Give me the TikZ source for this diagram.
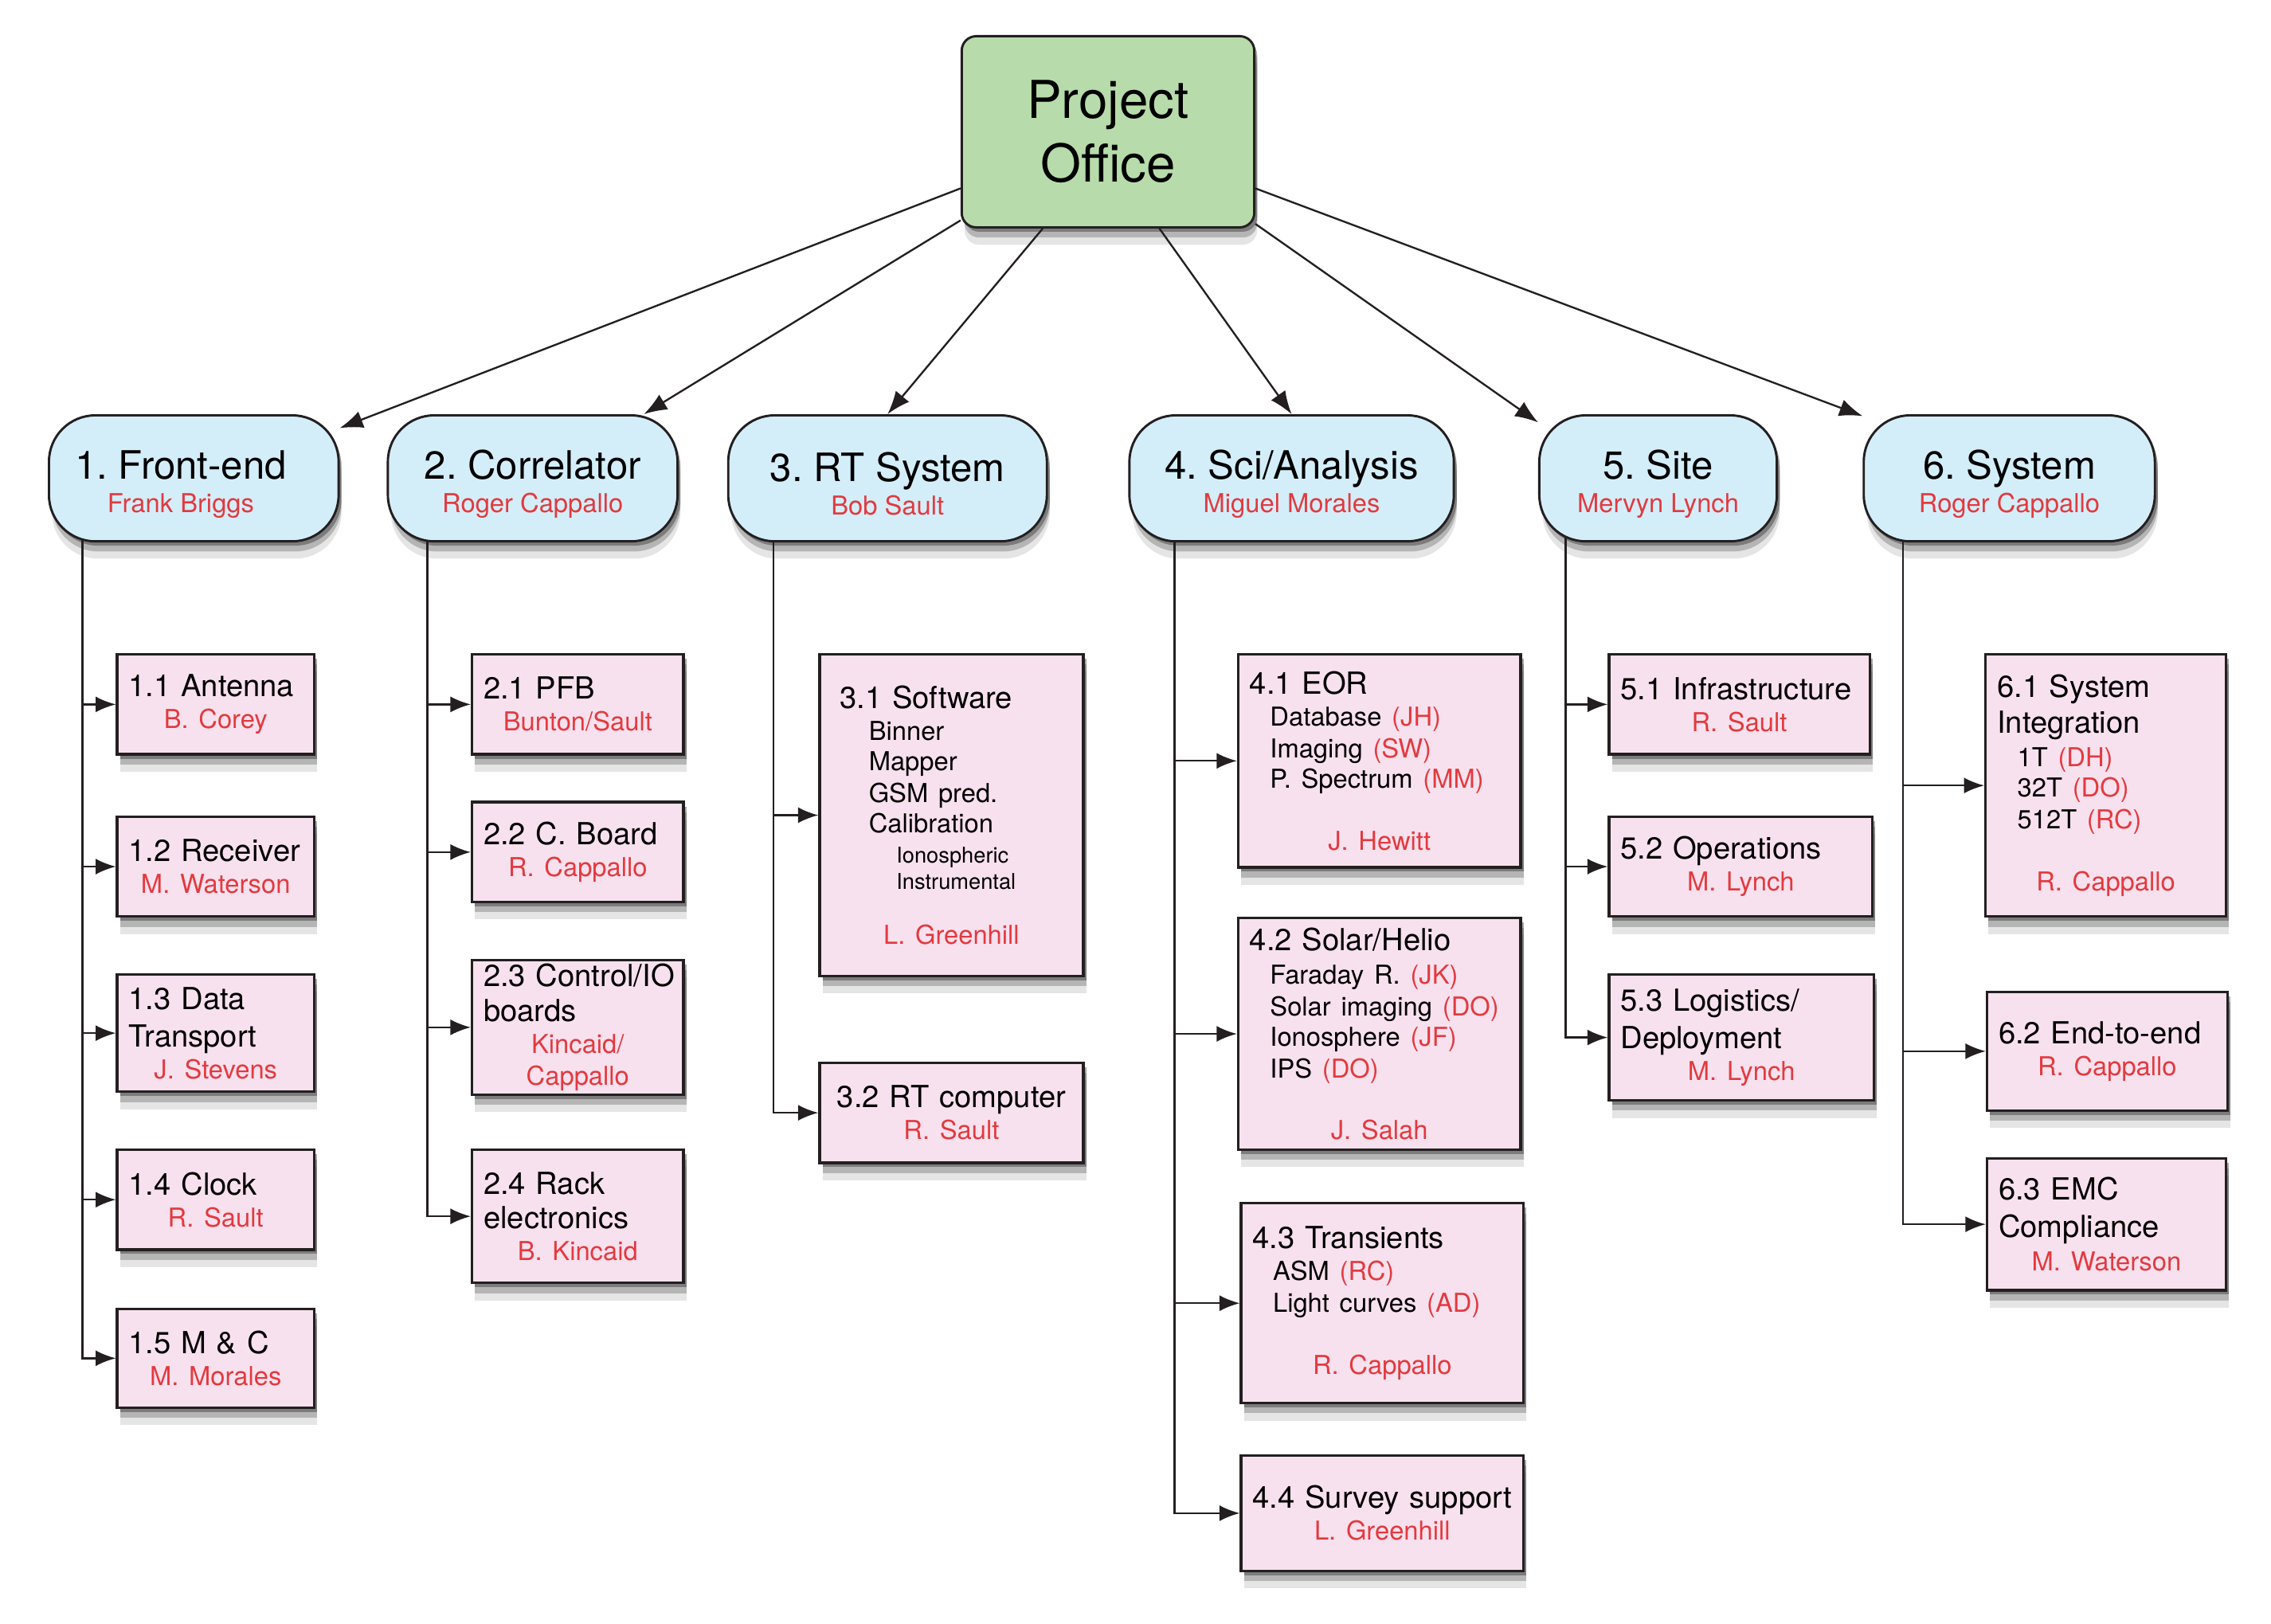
\documentclass[tikz,border=0pt]{standalone}
\usepackage{fontspec}
\setmainfont{TeX Gyre Heros}
\usepackage{tikz}
\usepackage{xcolor}
\usetikzlibrary{arrows.meta,shadows}

\definecolor{pogreen}{HTML}{B7DBAA}
\definecolor{areablue}{HTML}{D4EEF9}
\definecolor{taskpink}{HTML}{F8E1EE}
\definecolor{leadred}{HTML}{E23A3F}
\definecolor{ink}{HTML}{231F20}

\newcommand{\mgr}[1]{{\color{leadred}\fontsize{18}{23}\selectfont #1}}
\newcommand{\who}[1]{\hspace*{\fill}\mbox{\color{leadred}\fontsize{18}{22}\selectfont #1}\hspace*{\fill}\null}
\newcommand{\wbsline}[1]{\hspace*{14pt}\mbox{\fontsize{18}{22}\selectfont #1}}
\newcommand{\initials}[1]{{\color{leadred}(#1)}}
\hyphenpenalty=10000
\frenchspacing

\begin{document}
\begin{tikzpicture}[x=1pt,y=-1pt,
  soft/.style={drop shadow={shadow xshift=2pt,shadow yshift=-3pt,opacity=.4,fill=black!85},
    drop shadow={shadow xshift=2pt,shadow yshift=-7pt,opacity=.25,fill=black!85},
    drop shadow={shadow xshift=2pt,shadow yshift=-12pt,opacity=.12,fill=black!85}},
  office/.style={draw=ink,line width=1.6pt,fill=pogreen,rounded corners=10pt,soft,
    minimum width=202pt,minimum height=132pt,inner sep=0pt,align=center,
    font=\fontsize{36}{44}\selectfont},
  area/.style={draw=ink,line width=1.6pt,fill=areablue,rounded corners=32pt,soft,
    minimum height=87pt,inner sep=0pt,align=center,anchor=north west,
    font=\fontsize{27}{23}\selectfont,execute at begin node={\rule{0pt}{51pt}}},
  task/.style={draw=ink,line width=1.8pt,fill=taskpink,soft,anchor=north west,
    inner xsep=8pt,inner ysep=0pt,align=left,font=\fontsize{21}{22}\selectfont},
  link/.style={draw=ink,line width=1.3pt,-{Latex[length=16pt,width=12pt]}},
  feed/.style={draw=ink,line width=1.3pt,-{Latex[length=14pt,width=11pt]}}]
        \useasboundingbox (0,0) rectangle (1568,1121);

        \node[office] (po) at (765,91) {Project\\Office};

        \node[area,minimum width=200pt] (fe) at (33,286) {1. Front-end\kern18pt\\\mgr{Frank Briggs\kern18pt}};
        \node[area,minimum width=200pt] (cor) at (267,286) {2. Correlator\\\mgr{Roger Cappallo}};
        \node[area,minimum width=220pt] (rts) at (502,286) {3. RT System\\\mgr{Bob Sault}};
        \node[area,minimum width=224pt] (sci) at (779,286) {4. Sci/Analysis\\\mgr{Miguel Morales}};
        \node[area,minimum width=164pt] (site) at (1062,286) {5. Site\\\mgr{Mervyn Lynch}};
        \node[area,minimum width=201pt] (sys) at (1286,286) {6. System\\\mgr{Roger Cappallo}};

        % 1. Front-end
        \node[task,text width=120pt,minimum height=69pt] (t11) at (80,451) {1.1~Antenna\\\who{B. Corey}};
        \node[task,text width=120pt,minimum height=69pt] (t12) at (80,563) {1.2~Receiver\\\who{M. Waterson}};
        \node[task,text width=120pt,minimum height=81pt] (t13) at (80,672) {1.3~Data\\[4pt]Transport\\\who{J. Stevens}};
        \node[task,text width=120pt,minimum height=69pt] (t14) at (80,793) {1.4~Clock\\\who{R. Sault}};
        \node[task,text width=120pt,minimum height=68pt] (t15) at (80,903) {1.5~M~\&~C\\\who{M. Morales}};

        % 2. Correlator
        \node[task,text width=130pt,minimum height=69pt] (t21) at (325,451) {2.1~PFB\\\who{Bunton/Sault}};
        \node[task,text width=130pt,minimum height=69pt] (t22) at (325,553) {2.2~C.~Board\\\who{R. Cappallo}};
        \node[task,text width=130pt,minimum height=93pt] (t23) at (325,662) {2.3~Control/IO\\[2pt]boards\\\who{Kincaid/}\\\who{Cappallo}};
        \node[task,text width=130pt,minimum height=92pt] (t24) at (325,793) {2.4~Rack\\[2pt]electronics\\\who{B. Kincaid}};

        % 3. RT System
        \node[task,text width=154pt,inner xsep=14pt,minimum height=222pt] (t31) at (565,451)
        {3.1~Software\\
        \wbsline{\hspace{6pt}Binner}\\[-1pt]
        \wbsline{\hspace{6pt}Mapper}\\
        \wbsline{\hspace{6pt}GSM pred.}\\[-1pt]
        \wbsline{\hspace{6pt}Calibration}\\[-1pt]
        \wbsline{\hspace{25pt}\fontsize{15}{22}\selectfont Ionospheric}\\[-4pt]
        \wbsline{\hspace{25pt}\fontsize{15}{22}\selectfont Instrumental}\\[16pt]
        \who{L. Greenhill}};
        \node[task,text width=166pt,minimum height=69pt] (t32) at (565,733) {\hspace*{4pt}3.2~RT~computer\\\who{R. Sault}};

        % 4. Sci/Analysis
        \node[task,text width=179pt,minimum height=147pt] (t41) at (854,451)
        {4.1~EOR\\
        \wbsline{Database \initials{JH}}\\
        \wbsline{Imaging \initials{SW}}\\[-1pt]
        \wbsline{P. Spectrum \initials{MM}}\\[21pt]
        \who{J. Hewitt}};
        \node[task,text width=179pt,minimum height=160pt] (t42) at (854,633)
        {4.2~Solar/Helio\\[1pt]
        \wbsline{Faraday R. \initials{JK}}\\
        \wbsline{Solar imaging \initials{DO}}\\[-1pt]
        \wbsline{Ionosphere \initials{JF}}\\
        \wbsline{IPS \initials{DO}}\\[20pt]
        \who{J. Salah}};
        \node[task,text width=179pt,minimum height=138pt] (t43) at (856,830)
        {4.3~Transients\\
        \wbsline{ASM \initials{RC}}\\
        \wbsline{Light curves \initials{AD}}\\[21pt]
        \who{R. Cappallo}};
        \node[task,text width=179pt,minimum height=80pt] (t44) at (856,1004) {4.4~Survey~support\\\who{L. Greenhill}};

        % 5. Site
        \node[task,text width=164pt,minimum height=69pt] (t51) at (1110,451) {5.1~Infrastructure\\\who{R. Sault}};
        \node[task,text width=166pt,minimum height=69pt] (t52) at (1110,563) {5.2~Operations\\\who{M. Lynch}};
        \node[task,text width=167pt,minimum height=87pt] (t53) at (1110,672) {5.3~Logistics/\\[4pt]Deployment\\\who{M. Lynch}};

        % 6. System
        \node[task,text width=150pt,minimum height=181pt] (t61) at (1370,451)
        {6.1~System\\[3pt]
        Integration\\[1pt]
        \wbsline{1T \initials{DH}}\\[-1pt]
        \wbsline{32T \initials{DO}}\\
        \wbsline{512T \initials{RC}}\\[21pt]
        \who{R. Cappallo}};
        \node[task,text width=150pt,minimum height=82pt] (t62) at (1371,684) {6.2~End-to-end\\\who{R. Cappallo}};
        \node[task,text width=149pt,minimum height=91pt] (t63) at (1371,799) {6.3~EMC\\[4pt]Compliance\\[1pt]\who{M. Waterson}};

        % office to areas
        \draw[link] (po.201) -- (fe.19);
        \draw[link] (po.211) -- (cor.30);
        \draw[link] (po.236) -- (rts.north);
        \draw[link] (po.298) -- (sci.north);
        \draw[link] (po.328) -- (site.155);
        \draw[link] (po.339) -- (sys.157);

        % areas to tasks
        \coordinate (fe-t) at ([xshift=24pt,yshift=1.5pt]fe.south west);
        \coordinate (cor-t) at ([xshift=28pt,yshift=0.5pt]cor.south west);
        \coordinate (rts-t) at ([xshift=32pt]rts.south west);
        \coordinate (sci-t) at ([xshift=32pt]sci.south west);
        \coordinate (site-t) at ([xshift=19pt,yshift=3.5pt]site.south west);
        \coordinate (sys-t) at ([xshift=28pt,yshift=0.5pt]sys.south west);
        \foreach \w in {t11,t12,t13,t14,t15}
        \draw[feed] (fe-t) |- (\w.west);
        \foreach \w in {t21,t22,t23,t24}
        \draw[feed] (cor-t) |- (\w.west);
        \foreach \w in {t31,t32}
        \draw[feed] (rts-t) |- (\w.west);
        \foreach \w in {t41,t42,t43,t44}
        \draw[feed] (sci-t) |- (\w.west);
        \foreach \w in {t51,t52,t53}
        \draw[feed] (site-t) |- (\w.west);
        \foreach \w in {t61,t62,t63}
        \draw[feed] (sys-t) |- (\w.west);
\end{tikzpicture}
\end{document}
